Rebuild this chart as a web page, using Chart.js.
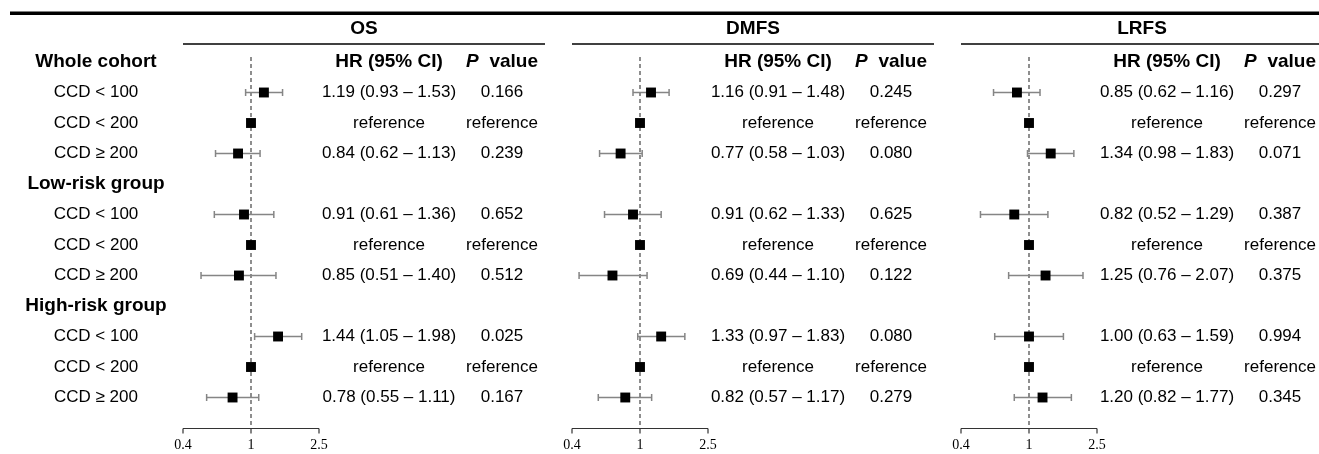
<!DOCTYPE html>
<html>
<head>
<meta charset="utf-8">
<script src="https://cdn.jsdelivr.net/npm/chart.js@4.4.1/dist/chart.umd.min.js"></script>
<style>
  body { margin: 0; background: #fff; }
  #wrap { position: relative; width: 1319px; height: 454px; overflow: hidden; }
  #wrap canvas { position: absolute; left: 0; top: 0; }
</style>
</head>
<body>
<div id="wrap">
  <canvas id="os" width="1319" height="454"></canvas>
  <canvas id="dmfs" width="1319" height="454"></canvas>
  <canvas id="lrfs" width="1319" height="454"></canvas>
</div>
<script>
// Row labels
const groups = ['Whole cohort', 'Low-risk group', 'High-risk group'];
const subgroups = ['CCD < 100', 'CCD < 200', 'CCD \u2265 200'];
const xTicks = [0.4, 1, 2.5];

// OS
const osHR = [1.19, 1, 0.84, 0.91, 1, 0.85, 1.44, 1, 0.78];
const osLo = [0.93, null, 0.62, 0.61, null, 0.51, 1.05, null, 0.55];
const osHi = [1.53, null, 1.13, 1.36, null, 1.40, 1.98, null, 1.11];
const osP = ['0.166', 'reference', '0.239', '0.652', 'reference', '0.512', '0.025', 'reference', '0.167'];

// DMFS
const dmfsHR = [1.16, 1, 0.77, 0.91, 1, 0.69, 1.33, 1, 0.82];
const dmfsLo = [0.91, null, 0.58, 0.62, null, 0.44, 0.97, null, 0.57];
const dmfsHi = [1.48, null, 1.03, 1.33, null, 1.10, 1.83, null, 1.17];
const dmfsP = ['0.245', 'reference', '0.080', '0.625', 'reference', '0.122', '0.080', 'reference', '0.279'];

// LRFS
const lrfsHR = [0.85, 1, 1.34, 0.82, 1, 1.25, 1.00, 1, 1.20];
const lrfsLo = [0.62, null, 0.98, 0.52, null, 0.76, 0.63, null, 0.82];
const lrfsHi = [1.16, null, 1.83, 1.29, null, 2.07, 1.59, null, 1.77];
const lrfsP = ['0.297', 'reference', '0.071', '0.387', 'reference', '0.375', '0.994', 'reference', '0.345'];

const SANS = '"Liberation Sans", Arial, Helvetica, sans-serif';
const SERIF = '"Liberation Serif", "Times New Roman", serif';

// data row i -> y index (headers sit on 0, 4, 8)
function rowOf(i) {
    return Math.floor(i / 3) * 4 + (i % 3) + 1;
}

function hrText(hr, lo, hi) {
    if (lo === null) return 'reference';
    return `${hr.toFixed(2)} (${lo.toFixed(2)} \u2013 ${hi.toFixed(2)})`;
}

const forestPlugin = {
    id: 'forest',
    beforeDatasetsDraw(chart, args, opts) {
        const ctx = chart.ctx;
        const x = chart.scales.x;
        const y = chart.scales.y;
        const area = chart.chartArea;
        ctx.save();

        // reference line at HR = 1
        ctx.strokeStyle = '#444';
        ctx.lineWidth = 1.2;
        ctx.setLineDash([4, 3]);
        ctx.beginPath();
        ctx.moveTo(x.getPixelForValue(1), area.top - 5);
        ctx.lineTo(x.getPixelForValue(1), area.bottom + 31);
        ctx.stroke();
        ctx.setLineDash([]);

        // confidence intervals
        ctx.strokeStyle = '#858585';
        ctx.lineWidth = 1.5;
        opts.lo.forEach((lo, i) => {
            if (lo === null) return;
            const x0 = x.getPixelForValue(lo);
            const x1 = x.getPixelForValue(opts.hi[i]);
            const yy = y.getPixelForValue(rowOf(i));
            ctx.beginPath();
            ctx.moveTo(x0, yy); ctx.lineTo(x1, yy);
            ctx.moveTo(x0, yy - 3.5); ctx.lineTo(x0, yy + 3.5);
            ctx.moveTo(x1, yy - 3.5); ctx.lineTo(x1, yy + 3.5);
            ctx.stroke();
        });
        ctx.restore();
    },
    afterDraw(chart, args, opts) {
        const ctx = chart.ctx;
        const x = chart.scales.x;
        const y = chart.scales.y;
        const area = chart.chartArea;
        const left = area.left;
        ctx.save();
        ctx.fillStyle = '#000';
        ctx.textBaseline = 'middle';

        // x axis
        const ay = area.bottom + 31;
        ctx.strokeStyle = '#333';
        ctx.lineWidth = 1.2;
        ctx.beginPath();
        ctx.moveTo(x.getPixelForValue(xTicks[0]), ay);
        ctx.lineTo(x.getPixelForValue(xTicks[xTicks.length - 1]), ay);
        xTicks.forEach(t => {
            ctx.moveTo(x.getPixelForValue(t), ay);
            ctx.lineTo(x.getPixelForValue(t), ay + 5);
        });
        ctx.stroke();
        ctx.font = '14px ' + SERIF;
        ctx.textAlign = 'center';
        xTicks.forEach(t => ctx.fillText(String(t), x.getPixelForValue(t), ay + 17));

        // panel title + rule
        ctx.font = 'bold 19px ' + SANS;
        ctx.fillText(opts.title, left + 181, 29);
        ctx.strokeStyle = '#000';
        ctx.lineWidth = 1.6;
        ctx.beginPath();
        ctx.moveTo(left, 44);
        ctx.lineTo(left + 362, 44);
        ctx.stroke();

        // column headers
        const hrX = left + 206;
        const pX = left + 319;
        const hy = y.getPixelForValue(0);
        ctx.fillText('HR (95% CI)', hrX, hy);
        ctx.textAlign = 'left';
        ctx.font = 'italic bold 19px ' + SANS;
        ctx.fillText('P', pX - 36, hy);
        ctx.font = 'bold 19px ' + SANS;
        ctx.fillText('value', pX + 36 - ctx.measureText('value').width, hy);

        // values
        ctx.textAlign = 'center';
        ctx.font = '17px ' + SANS;
        opts.hr.forEach((hr, i) => {
            const yy = y.getPixelForValue(rowOf(i));
            ctx.fillText(hrText(hr, opts.lo[i], opts.hi[i]), hrX, yy);
            ctx.fillText(opts.p[i], pX, yy);
        });

        // row labels and top rule only once
        if (opts.rowLabels) {
            ctx.fillRect(10, 11.5, 1309, 3.5);
            groups.forEach((g, gi) => {
                ctx.font = 'bold 19px ' + SANS;
                ctx.fillText(g, 96, y.getPixelForValue(gi * 4));
                ctx.font = '17px ' + SANS;
                subgroups.forEach((s, si) => {
                    ctx.fillText(s, 96, y.getPixelForValue(gi * 4 + si + 1));
                });
            });
        }
        ctx.restore();
    }
};

function makePanel(id, title, axisLeft, hr, lo, hi, p, rowLabels) {
    const axisWidth = 136;
    return new Chart(document.getElementById(id), {
        type: 'scatter',
        data: {
            datasets: [{
                data: hr.map((v, i) => ({ x: v, y: rowOf(i) })),
                pointStyle: 'rect',
                pointRadius: 7,
                pointHoverRadius: 7,
                backgroundColor: '#000',
                borderWidth: 0,
                clip: false
            }]
        },
        options: {
            responsive: false,
            animation: false,
            events: [],
            layout: {
                padding: { left: axisLeft, right: 1319 - axisLeft - axisWidth, top: 62, bottom: 454 - 397.5 }
            },
            scales: {
                x: { type: 'logarithmic', min: 0.4, max: 2.5, display: false },
                y: { type: 'linear', min: 0, max: 11, reverse: true, display: false }
            },
            plugins: {
                legend: { display: false },
                tooltip: { enabled: false },
                forest: { title, hr, lo, hi, p, rowLabels }
            }
        },
        plugins: [forestPlugin]
    });
}

makePanel('os', 'OS', 183, osHR, osLo, osHi, osP, true);
makePanel('dmfs', 'DMFS', 572, dmfsHR, dmfsLo, dmfsHi, dmfsP, false);
makePanel('lrfs', 'LRFS', 961, lrfsHR, lrfsLo, lrfsHi, lrfsP, false);
</script>
</body>
</html>
